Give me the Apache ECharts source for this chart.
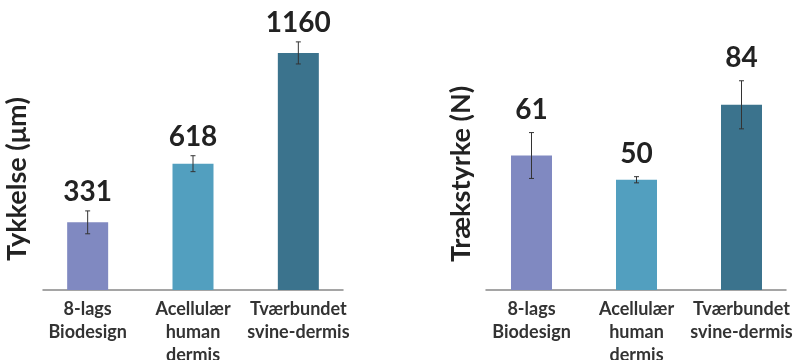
<!DOCTYPE html>
<html>
<head>
<meta charset="utf-8">
<title>Tykkelse og trækstyrke</title>
<script src="https://cdn.jsdelivr.net/npm/echarts@6/dist/echarts.min.js"></script>
<style>
  html, body { margin: 0; padding: 0; background: #fff; }
  #main { width: 796px; height: 360px; }
</style>
</head>
<body>
<div id="main"></div>
<script>
// data
var categories = ['8-lags\nBiodesign', 'Acellulær\nhuman\ndermis', 'Tværbundet\nsvine-dermis'];
var thickness = [331, 618, 1160];
var thicknessErr = [56, 39, 54];
var strength = [61, 50, 84];
var strengthErr = [10.4, 1.4, 10.9];

var barColors = ['#8089c1', '#529fbf', '#3b738d'];
var fontFam = 'Lato, "Noto Sans", sans-serif';

function errData(vals, errs) {
    return vals.map(function (v, i) { return [i, v - errs[i], v + errs[i], v]; });
}

// error bar + value label above it
function errRender(gap) {
    return function (params, api) {
        var i = api.value(0);
        var pHi = api.coord([i, api.value(2)]);
        var pLo = api.coord([i, api.value(1)]);
        var c = 2.5;
        return {
            type: 'group',
            children: [
                { type: 'line', shape: { x1: pHi[0], y1: pHi[1], x2: pLo[0], y2: pLo[1] }, style: { stroke: '#333', lineWidth: 1 } },
                { type: 'line', shape: { x1: pHi[0] - c, y1: pHi[1], x2: pHi[0] + c, y2: pHi[1] }, style: { stroke: '#333', lineWidth: 1 } },
                { type: 'line', shape: { x1: pLo[0] - c, y1: pLo[1], x2: pLo[0] + c, y2: pLo[1] }, style: { stroke: '#333', lineWidth: 1 } },
                {
                    type: 'text', x: pHi[0], y: pHi[1] - gap,
                    style: {
                        text: String(api.value(3)), fill: '#222',
                        fontSize: 28, fontWeight: 'bold', fontFamily: fontFam,
                        align: 'center', verticalAlign: 'bottom'
                    }
                }
            ]
        };
    };
}

function catAxis(gi) {
    return {
        type: 'category', gridIndex: gi, data: categories,
        axisLine: { show: false }, axisTick: { show: false },
        axisLabel: { interval: 0, margin: 8, fontSize: 18, lineHeight: 23, color: '#333', fontWeight: 'bold', fontFamily: fontFam }
    };
}
function valAxis(gi, max, name, shift) {
    return {
        type: 'value', gridIndex: gi, min: 0, max: max,
        name: name, nameLocation: 'middle', nameGap: 4, nameRotate: 90,
        nameTextStyle: { fontSize: 27, fontWeight: 'bold', color: '#222', fontFamily: fontFam, padding: [0, shift, 0, 0] },
        axisLine: { show: false }, axisTick: { show: false }, axisLabel: { show: false }, splitLine: { show: false }
    };
}
function lineX(gi) {
    return {
        type: 'value', gridIndex: gi, min: 0, max: 1,
        axisLine: { show: true, lineStyle: { color: '#888', width: 1.5 } },
        axisTick: { show: false }, axisLabel: { show: false }, splitLine: { show: false }
    };
}
function hiddenY(gi) {
    return { type: 'value', gridIndex: gi, min: 0, max: 1, show: false };
}

var myChart = echarts.init(document.getElementById('main'));

var option = {
    animation: false,
    grid: [
        { left: 35, width: 316, top: 10, height: 280, outerBoundsMode: 'none' },
        { left: 479, width: 315, top: 10, height: 280, outerBoundsMode: 'none' },
        { left: 43, width: 300, top: 10, height: 280, outerBoundsMode: 'none' },
        { left: 486, width: 300, top: 10, height: 280, outerBoundsMode: 'none' }
    ],
    xAxis: [catAxis(0), catAxis(1), lineX(2), lineX(3)],
    yAxis: [
        valAxis(0, 1370, 'Tykkelse (μm)', 58),
        valAxis(1, 127, 'Trækstyrke (N)', 48),
        hiddenY(2), hiddenY(3)
    ],
    series: [
        {
            type: 'bar', xAxisIndex: 0, yAxisIndex: 0, barWidth: 41,
            data: thickness.map(function (v, i) { return { value: v, itemStyle: { color: barColors[i] } }; })
        },
        {
            type: 'custom', xAxisIndex: 0, yAxisIndex: 0,
            renderItem: errRender(5), encode: { x: 0, y: [1, 2] },
            data: errData(thickness, thicknessErr), z: 10
        },
        {
            type: 'bar', xAxisIndex: 1, yAxisIndex: 1, barWidth: 41,
            data: strength.map(function (v, i) { return { value: v, itemStyle: { color: barColors[i] } }; })
        },
        {
            type: 'custom', xAxisIndex: 1, yAxisIndex: 1,
            renderItem: errRender(9), encode: { x: 0, y: [1, 2] },
            data: errData(strength, strengthErr), z: 10
        }
    ]
};

myChart.setOption(option);
</script>
</body>
</html>
